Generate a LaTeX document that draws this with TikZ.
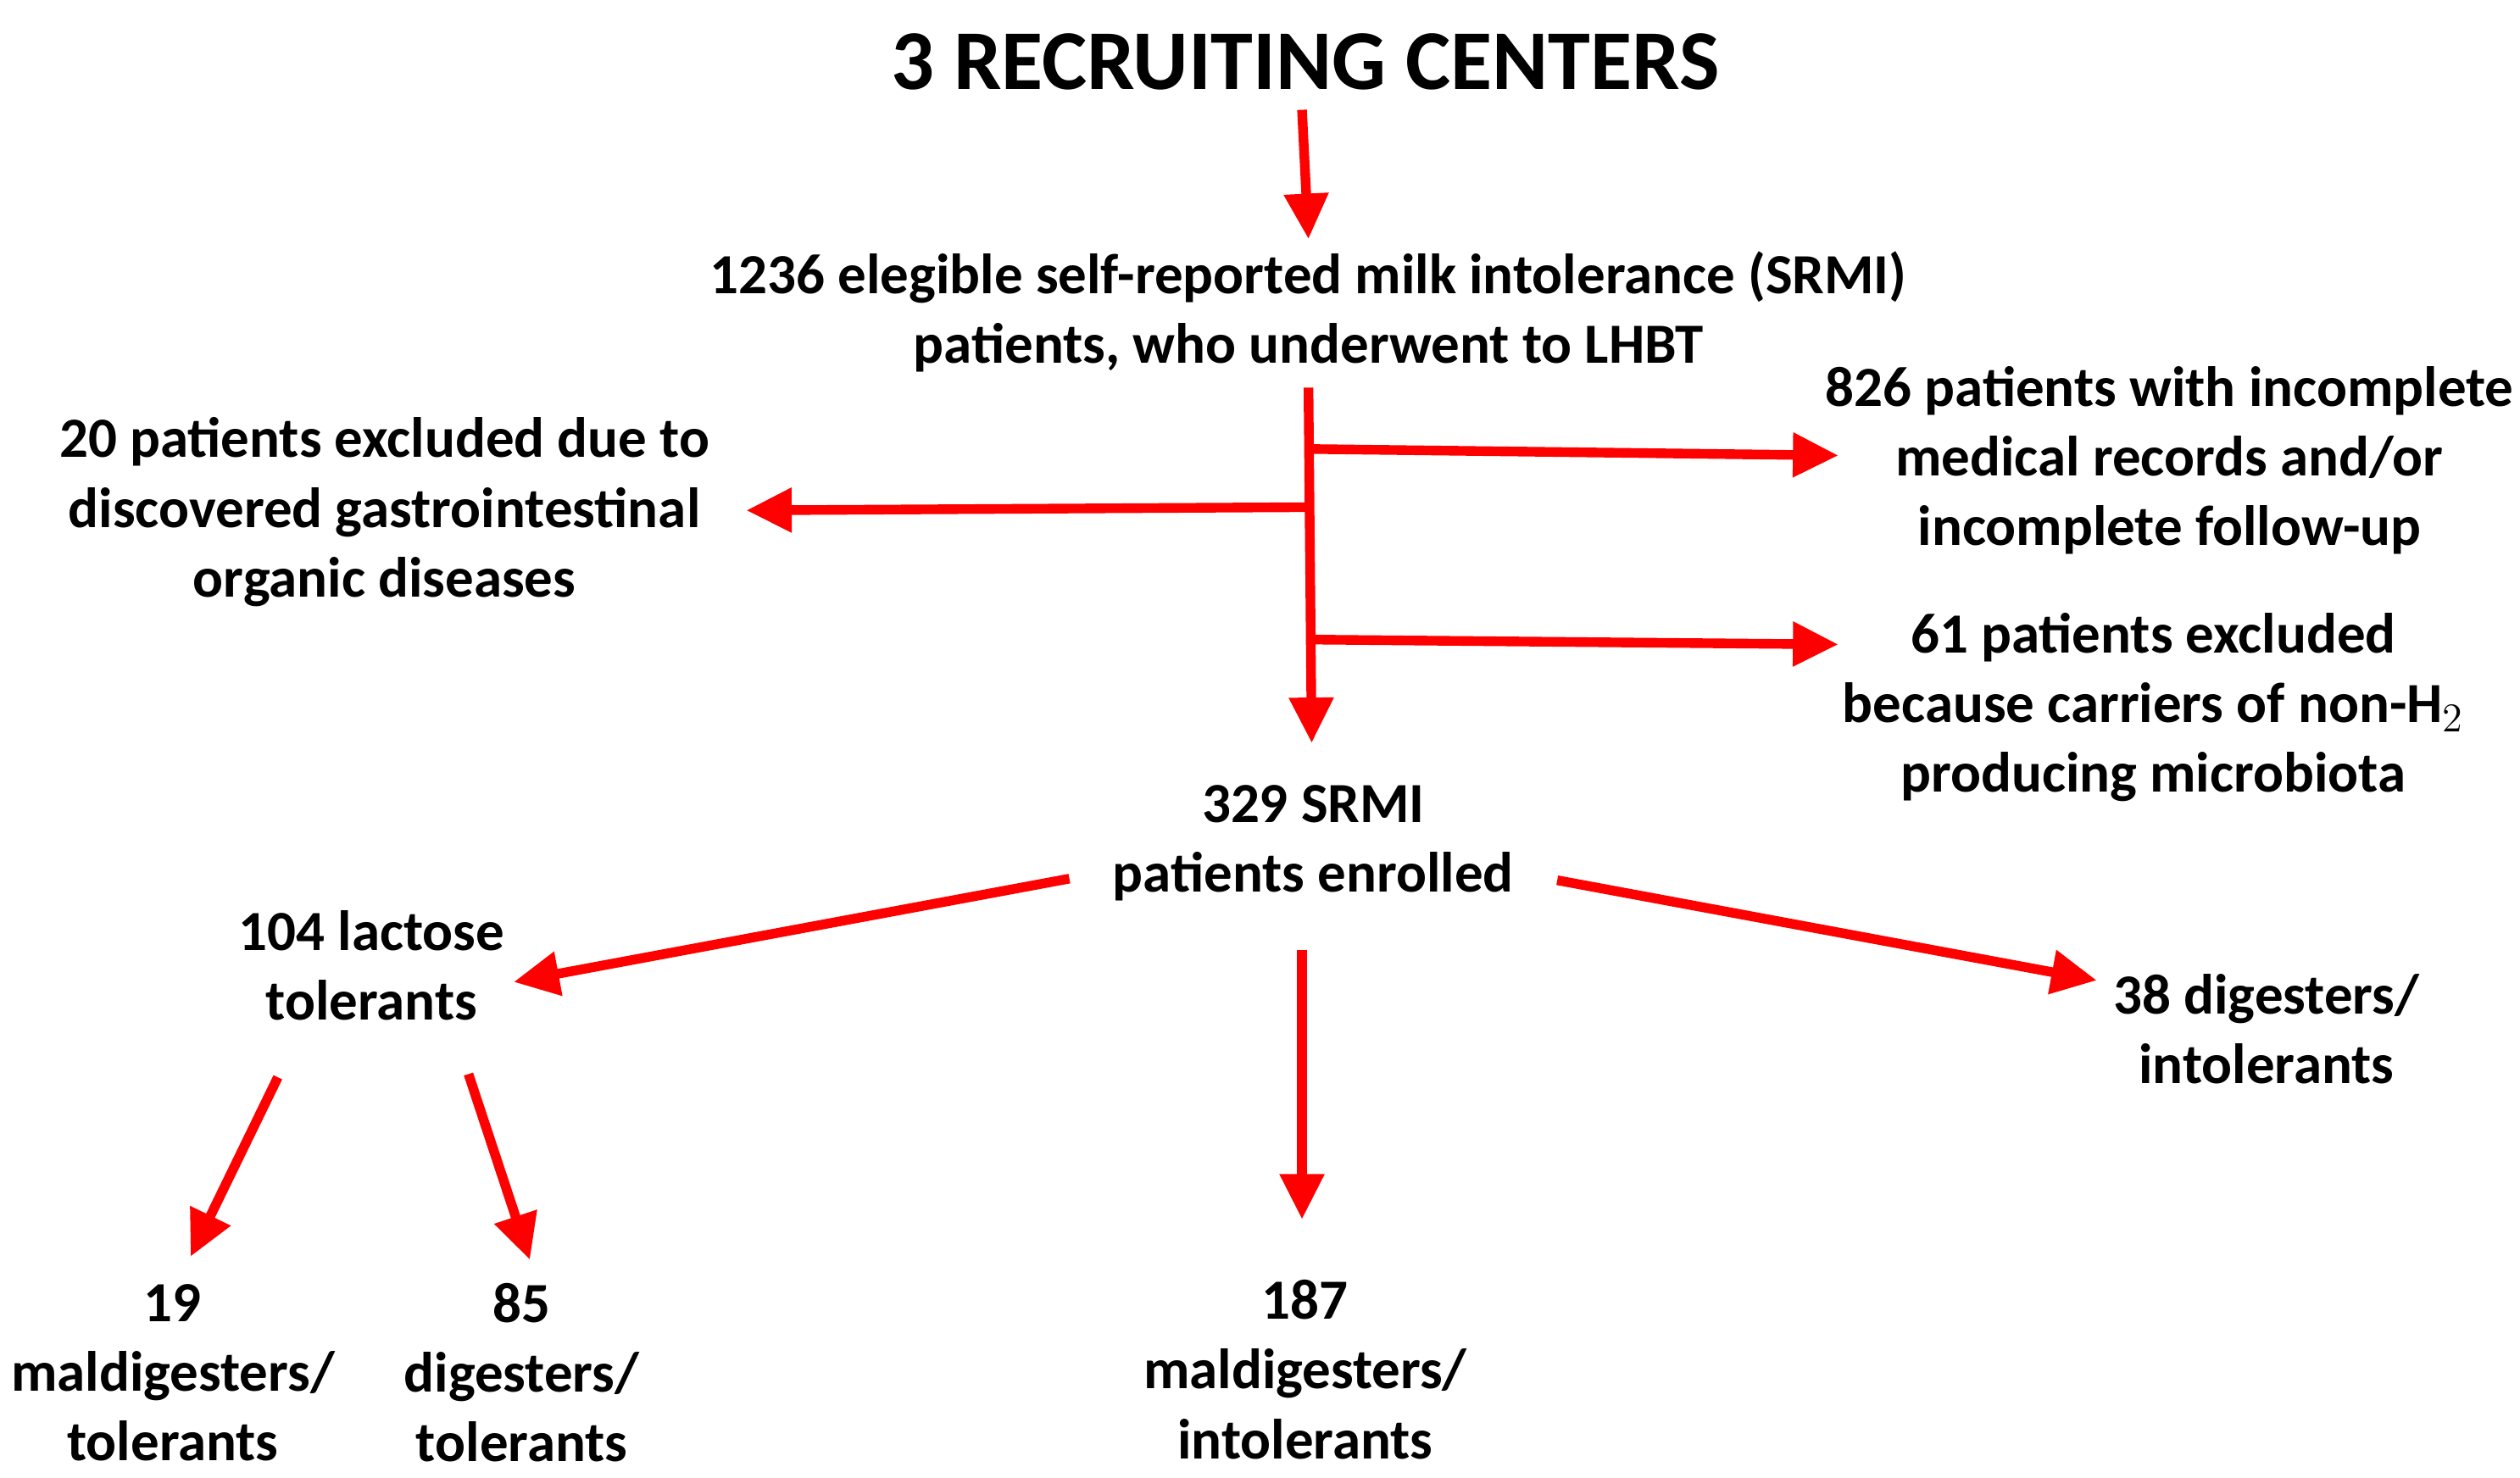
\documentclass[tikz,border=0pt]{standalone}
\usepackage{fontspec}
\setmainfont{Carlito}
\usetikzlibrary{arrows.meta}
\begin{document}
\begin{tikzpicture}[x=0.02cm,y=-0.02cm,
 t/.style={font=\bfseries\fontsize{20}{24.5}\selectfont,align=center,inner sep=0pt},
 ar/.style={draw=red,line width=3.4pt,-{Triangle[length=16pt,width=15pt]}},
 ln/.style={draw=red,line width=3.4pt}]
\useasboundingbox (0,0) rectangle (1560,914.6);
\node[t,font=\bfseries\fontsize{30}{34}\selectfont] (title) at (808,38) {3 RECRUITING CENTERS};
\node[t] (a) at (810,193) {1236 elegible self-reported milk intolerance (SRMI)\\patients, who underwent to LHBT};
\node[t] (b) at (1343,285) {826 patients with incomplete\\medical records and/or\\incomplete follow-up};
\node[t] (c) at (238,317) {20 patients excluded due to\\discovered gastrointestinal\\organic diseases};
\node[t] (d) at (1333,438) {61 patients excluded\\because carriers of non-H$_2$\\producing microbiota};
\node[t] (e) at (813,522) {329 SRMI\\patients enrolled};
\node[t] (f) at (230,598) {104 lactose\\tolerants};
\node[t] (g) at (1403,637) {38 digesters/\\intolerants};
\node[t] (h) at (107,850) {19\\maldigesters/\\tolerants};
\node[t] (i) at (323,850) {85\\digesters/\\tolerants};
\node[t] (j) at (808,848) {187\\maldigesters/\\intolerants};
\coordinate (p1) at (812,278);
\coordinate (p2) at (810,314);
\coordinate (p3) at (813,396);
\draw[ar] (806,68) -- (810,148);
\draw[ar] (810,240) -- (812,460);
\draw[ar] (p1) -- (1138,282);
\draw[ar] (p2) -- (462,316);
\draw[ar] (p3) -- (1138,399);
\draw[ar] (662,544) -- (318,608);
\draw[ar] (964,545) -- (1298,607);
\draw[ar] (806,588) -- (806,755);
\draw[ar] (172,667) -- (118,778);
\draw[ar] (290,665) -- (328,780);
\end{tikzpicture}
\end{document}
